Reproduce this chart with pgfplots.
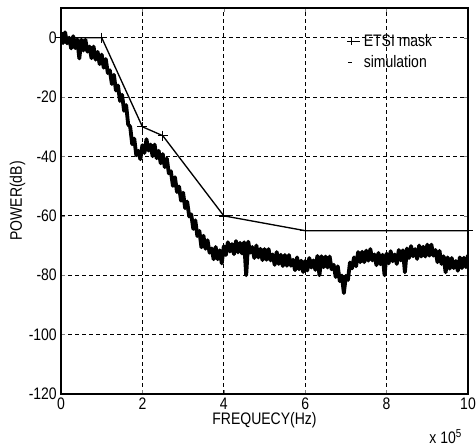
\documentclass[border=0pt]{standalone}
\usepackage{fontspec}
\setmainfont[FakeStretch=0.84]{Liberation Sans}
\usepackage{pgfplots}
\pgfplotsset{compat=1.18}

% simulated PSD (frequency in units of 1e5 Hz, power in dB)
\pgfplotstableread{
x y
0.00 1.8
0.05 -1.8
0.10 1.8
0.15 -1.9
0.20 0.0
0.25 -3.6
0.30 0.5
0.35 -3.5
0.40 -0.6
0.45 -7.0
0.50 -0.7
0.55 -4.3
0.60 -0.7
0.65 -4.7
0.70 -3.0
0.75 -6.9
0.80 -3.0
0.85 -7.4
0.90 -4.8
0.95 -8.9
1.00 -5.7
1.05 -10.1
1.10 -7.2
1.15 -11.9
1.20 -11.0
1.25 -15.6
1.30 -12.5
1.35 -17.8
1.40 -16.1
1.45 -21.3
1.50 -19.2
1.55 -24.6
1.60 -22.7
1.65 -29.2
1.70 -30.0
1.75 -35.9
1.80 -34.0
1.85 -39.6
1.90 -38.1
1.95 -40.9
2.00 -36.2
2.05 -38.8
2.10 -34.2
2.15 -38.0
2.20 -36.0
2.25 -39.9
2.30 -36.0
2.35 -40.6
2.40 -38.1
2.45 -42.3
2.50 -39.2
2.55 -43.6
2.60 -40.7
2.65 -45.7
2.70 -45.0
2.75 -49.9
2.80 -47.0
2.85 -52.0
2.90 -50.1
2.95 -54.9
3.00 -52.2
3.05 -57.4
3.10 -55.2
3.15 -60.2
3.20 -59.5
3.25 -64.4
3.30 -61.5
3.35 -66.8
3.40 -65.1
3.45 -70.6
3.50 -66.7
3.55 -71.1
3.60 -68.2
3.65 -72.4
3.70 -71.0
3.75 -74.6
3.80 -70.5
3.85 -74.6
3.90 -71.6
3.95 -76.0
4.00 -70.2
4.05 -73.2
4.10 -68.9
4.15 -72.0
4.20 -69.5
4.25 -72.9
4.30 -68.5
4.35 -72.3
4.40 -69.1
4.45 -72.7
4.50 -68.9
4.55 -80.0
4.60 -68.7
4.65 -72.4
4.70 -70.5
4.75 -74.2
4.80 -70.0
4.85 -74.0
4.90 -71.1
4.95 -74.9
5.00 -71.2
5.05 -74.8
5.10 -71.2
5.15 -75.0
5.20 -73.0
5.25 -76.5
5.30 -72.2
5.35 -76.2
5.40 -73.1
5.45 -76.9
5.50 -73.2
5.55 -76.8
5.60 -73.2
5.65 -76.8
5.70 -74.8
5.75 -78.3
5.80 -74.0
5.85 -78.0
5.90 -75.1
5.95 -78.9
6.00 -75.2
6.05 -78.4
6.10 -74.2
6.15 -77.4
6.20 -75.0
6.25 -78.2
6.30 -73.5
6.35 -80.0
6.40 -73.6
6.45 -77.3
6.50 -73.7
6.55 -77.4
6.60 -73.7
6.65 -78.0
6.70 -76.5
6.75 -80.6
6.80 -77.0
6.85 -82.0
6.90 -80.1
6.95 -86.0
7.00 -80.2
7.05 -81.6
7.10 -75.7
7.15 -77.7
7.20 -74.0
7.25 -77.0
7.30 -72.2
7.35 -75.6
7.40 -72.1
7.45 -75.6
7.50 -71.7
7.55 -75.1
7.60 -71.2
7.65 -75.0
7.70 -73.0
7.75 -76.6
7.80 -72.5
7.85 -76.3
7.90 -73.1
7.95 -80.0
8.00 -72.7
8.05 -76.0
8.10 -71.9
8.15 -75.3
8.20 -73.0
8.25 -76.2
8.30 -71.5
8.35 -75.0
8.40 -71.6
8.45 -79.0
8.50 -71.0
8.55 -74.2
8.60 -70.2
8.65 -73.6
8.70 -71.2
8.75 -74.5
8.80 -70.0
8.85 -73.7
8.90 -70.4
8.95 -73.7
9.00 -69.7
9.05 -73.4
9.10 -69.7
9.15 -73.4
9.20 -71.5
9.25 -75.6
9.30 -71.8
9.35 -76.2
9.40 -73.6
9.45 -79.0
9.50 -74.0
9.55 -77.8
9.60 -74.2
9.65 -77.6
9.70 -75.2
9.75 -78.5
9.80 -74.0
9.85 -77.6
9.90 -74.1
9.95 -77.3
10.00 -73.2
}\simdata

\begin{document}
\begin{tikzpicture}
\begin{axis}[
  scale only axis, width=244.2pt, height=231.6pt,
  xmin=0, xmax=10, ymin=-120, ymax=10,
  xtick={0,2,...,10}, ytick={-120,-100,...,0},
  /pgf/number format/assume math mode=true,
  tick align=inside, major tick length=2.5pt,
  xtick pos=both, ytick pos=both,
  axis line style={line width=0.8pt},
  grid=major,
  major grid style={black, line width=0.5pt, dash pattern=on 2.4pt off 1.8pt},
  xlabel={FREQUECY(Hz)}, ylabel={POWER(dB)},
  xlabel style={at={(axis description cs:0.5,0)}, anchor=center, yshift=-15.6pt},
  ylabel style={at={(axis description cs:0,0.5)}, anchor=center, yshift=26.1pt},
  xticklabel style={yshift=1pt},
  yticklabel style={xshift=1pt},
  legend style={at={(axis cs:7.03,2.5)}, anchor=north west, draw=none, fill=none,
    inner sep=0pt, row sep=0pt, legend cell align=left},
]
\addplot[black, line width=0.8pt, mark=+, mark size=3pt,
  legend image code/.code={\draw[line width=0.6pt] (0pt,0pt) -- (7pt,0pt);
    \draw[mark=+, mark size=2.5pt, line width=0.6pt] plot coordinates {(2pt,0pt)};}]
  coordinates {(0,0) (1,0) (2,-30) (2.5,-33) (4,-60) (6,-65) (10,-65)};
\addlegendentry{ETSI mask}
\addplot[black, line width=2.3pt, line join=round,
  legend image code/.code={\draw[line width=0.6pt] (0pt,0pt) -- (2.5pt,0pt);}]
  table[x=x, y=y] {\simdata};
\addlegendentry{simulation}
\end{axis}
\node[anchor=east] at ([xshift=0pt, yshift=-25.8pt]current axis.south east) {x 10\textsuperscript{5}};
\pgfresetboundingbox
\path[use as bounding box] ([xshift=-36.6pt, yshift=-30.6pt]current axis.south west) rectangle ([xshift=4.8pt, yshift=4.8pt]current axis.north east);
\end{tikzpicture}
\end{document}
